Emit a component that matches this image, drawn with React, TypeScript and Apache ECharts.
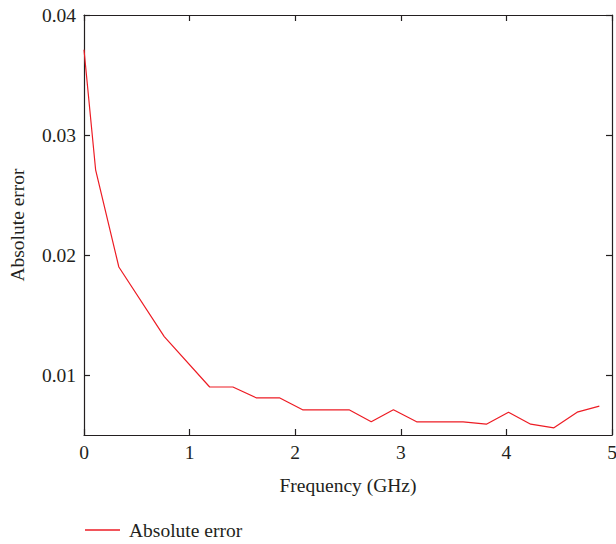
import React, { useEffect, useRef } from "react";
import * as echarts from "echarts";

const frequency = [0, 0.11, 0.33, 0.76, 1.19, 1.41, 1.63, 1.85, 2.07, 2.51, 2.72, 2.93, 3.15, 3.59, 3.81, 4.02, 4.23, 4.45, 4.67, 4.88];
const absError = [0.0371, 0.0271, 0.019, 0.0132, 0.009, 0.009, 0.0081, 0.0081, 0.0071, 0.0071, 0.0061, 0.0071, 0.0061, 0.0061, 0.0059, 0.0069, 0.0059, 0.0056, 0.0069, 0.0074];
const yTicks = [0.01, 0.02, 0.03, 0.04];

const FONT = "Liberation Serif";
const FS = 19.5;
const AXIS_COLOR = "#231f20";

export default function App() {
  const ref = useRef<HTMLDivElement>(null);
  useEffect(() => {
    if (!ref.current) return;
    const chart = echarts.init(ref.current, null, { renderer: "svg" });
    const axisLine = { show: true, onZero: false, lineStyle: { color: AXIS_COLOR, width: 1.2 } };
    const tick = { show: true, inside: true, length: 6, lineStyle: { color: AXIS_COLOR, width: 1.2 } };
    chart.setOption({
      animation: false,
      textStyle: { fontFamily: FONT },
      grid: { left: 84, top: 15, right: 4, bottom: 109, containLabel: false, outerBoundsMode: "none" },
      legend: {
        left: 80,
        top: 515,
        itemWidth: 35,
        itemHeight: 14,
        textStyle: { fontFamily: FONT, fontSize: FS, color: AXIS_COLOR, padding: [0, 0, 0, 4] },
        data: [{ name: "Absolute error", icon: "path://M0,0 L35,0 L35,1.3 L0,1.3 Z" }],
      },
      xAxis: [
        {
          type: "value",
          min: 0,
          max: 5,
          interval: 1,
          position: "bottom",
          name: "Frequency (GHz)",
          nameLocation: "middle",
          nameGap: 40,
          nameTextStyle: { fontFamily: FONT, fontSize: FS, color: AXIS_COLOR },
          axisLine,
          axisTick: tick,
          axisLabel: { fontFamily: FONT, fontSize: FS, color: AXIS_COLOR, margin: 7 },
          splitLine: { show: false },
        },
        {
          type: "value",
          min: 0,
          max: 5,
          interval: 1,
          position: "top",
          axisLine,
          axisTick: tick,
          axisLabel: { show: false },
          splitLine: { show: false },
        },
      ],
      yAxis: [
        {
          type: "value",
          min: 0.005,
          max: 0.04,
          position: "left",
          name: "Absolute error",
          nameLocation: "middle",
          nameGap: 57,
          nameTextStyle: { fontFamily: FONT, fontSize: FS, color: AXIS_COLOR },
          axisLine,
          axisTick: { ...tick, customValues: yTicks },
          axisLabel: {
            fontFamily: FONT,
            fontSize: FS,
            color: AXIS_COLOR,
            margin: 8,
            customValues: yTicks,
            formatter: (v: number) => v.toFixed(2),
          },
          splitLine: { show: false },
        },
        {
          type: "value",
          min: 0.005,
          max: 0.04,
          position: "right",
          axisLine,
          axisTick: { ...tick, customValues: yTicks },
          axisLabel: { show: false, customValues: yTicks },
          splitLine: { show: false },
        },
      ],
      series: [
        {
          name: "Absolute error",
          type: "line",
          data: frequency.map((f, i) => [f, absError[i]]),
          symbol: "none",
          itemStyle: { color: "#ed1c24" },
          lineStyle: { color: "#ed1c24", width: 1.2 },
        },
      ],
    });
    return () => chart.dispose();
  }, []);
  return <div ref={ref} style={{ width: 616, height: 544, position: "absolute", left: 0, top: 0 }} />;
}
